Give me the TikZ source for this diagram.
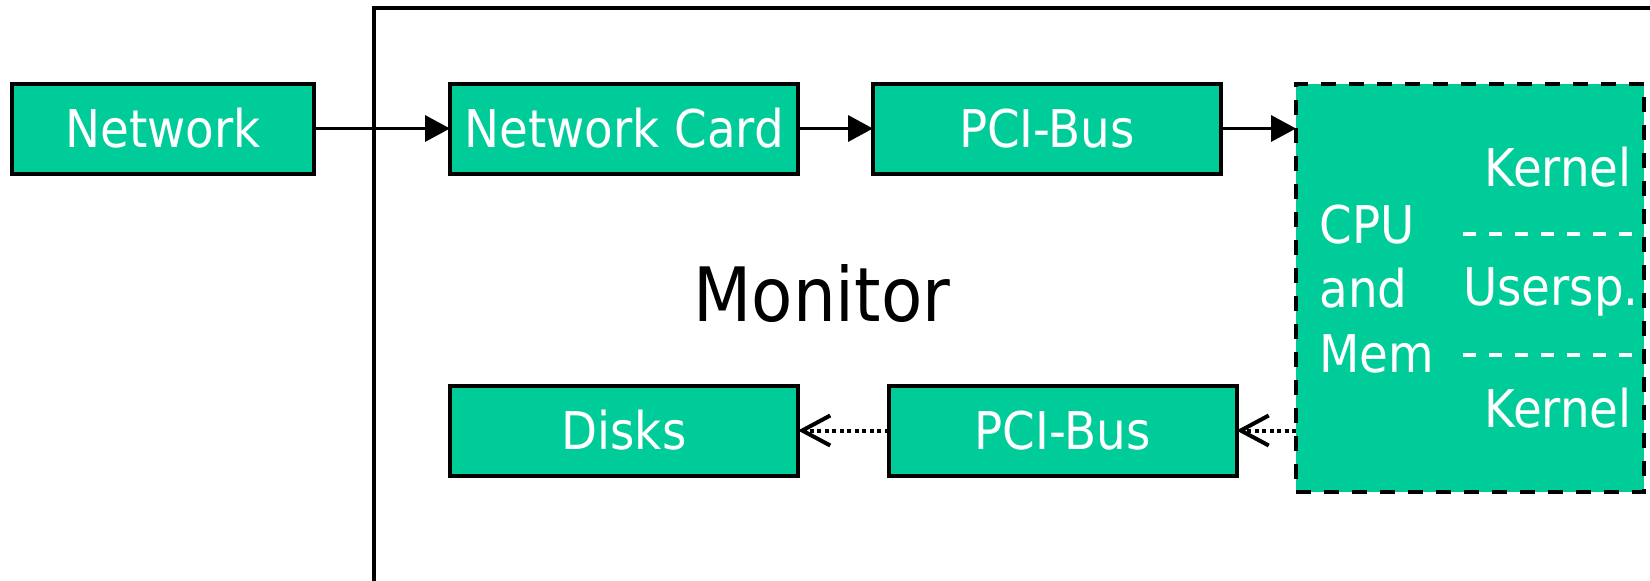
\documentclass[tikz,border=0pt]{standalone}
\usepackage{fontspec}
\setmainfont{DejaVu Sans Condensed}
\usetikzlibrary{arrows.meta}
\definecolor{boxgreen}{RGB}{0,204,153}
\tikzset{
  gbox/.style={draw=black, line width=2pt, fill=boxgreen, text=white,
    minimum height=45pt, inner sep=0pt, outer sep=0pt, font=\fontsize{26}{30}\selectfont},
  solidarrow/.style={line width=1.75pt, -{Triangle[length=12.5pt,width=13pt]}},
  dotarrow/.style={line width=2pt, dash pattern=on 2pt off 1.75pt,
    -{Straight Barb[length=14pt,width=15pt,line width=2pt]}},
  cputext/.style={text=white, inner sep=0pt, font=\fontsize{26}{30}\selectfont},
  sepline/.style={white, line width=2pt, dash pattern=on 6.5pt off 6.5pt}
}
\begin{document}
\begin{tikzpicture}[x=0.5pt,y=-0.5pt]
\useasboundingbox (0,0) rectangle (1650,580);
% monitor frame
\coordinate (mbot) at (374,584);
\coordinate (mtop) at (374,8);
\coordinate (mright) at (1654,8);
\draw[line width=2pt] (mbot) -- (mtop) -- (mright);
\node[font=\fontsize{37.5}{45}\selectfont, inner sep=0pt] (monitor) at (822,294) {Monitor};
% boxes
\node[gbox, minimum width=151pt] (net) at (163,128.5) {Network};
\node[gbox, minimum width=174pt] (card) at (624,128.5) {Network Card};
\node[gbox, minimum width=174pt] (pci1) at (1047,128.5) {PCI-Bus};
\node[gbox, minimum width=174pt] (disks) at (624,430.5) {Disks};
\node[gbox, minimum width=174pt] (pci2) at (1062.5,430.5) {PCI-Bus};
\node[draw=black, line width=2pt, dash pattern=on 7.5pt off 6.5pt, fill=boxgreen,
  minimum width=174pt, minimum height=204pt, inner sep=0pt, outer sep=0pt] (cpu) at (1470,288) {};
% cpu text
\node[cputext, anchor=base west] (tcpu) at (1319,243) {CPU};
\node[cputext, anchor=base west] (tand) at (1319,307) {and};
\node[cputext, anchor=base west] (tmem) at (1319,372) {Mem};
\node[cputext, anchor=base east] (k1) at (1632,186) {Kernel};
\node[cputext, anchor=base east] (us) at (1639,305) {Usersp.};
\node[cputext, anchor=base east] (k2) at (1632,427) {Kernel};
\coordinate (s1a) at (1463,234);
\coordinate (s2a) at (1463,355);
\draw[sepline] (s1a) -- (s1a -| cpu.east);
\draw[sepline] (s2a) -- (s2a -| cpu.east);
% connectors
\draw[solidarrow] (net.east) -- (card.west);
\draw[solidarrow] (card.east) -- (pci1.west);
\draw[solidarrow] (pci1.east) -- (pci1.east -| cpu.west);
\draw[dotarrow] (pci2.east -| cpu.west) -- (pci2.east);
\draw[dotarrow] (pci2.west) -- (disks.east);
\end{tikzpicture}
\end{document}
